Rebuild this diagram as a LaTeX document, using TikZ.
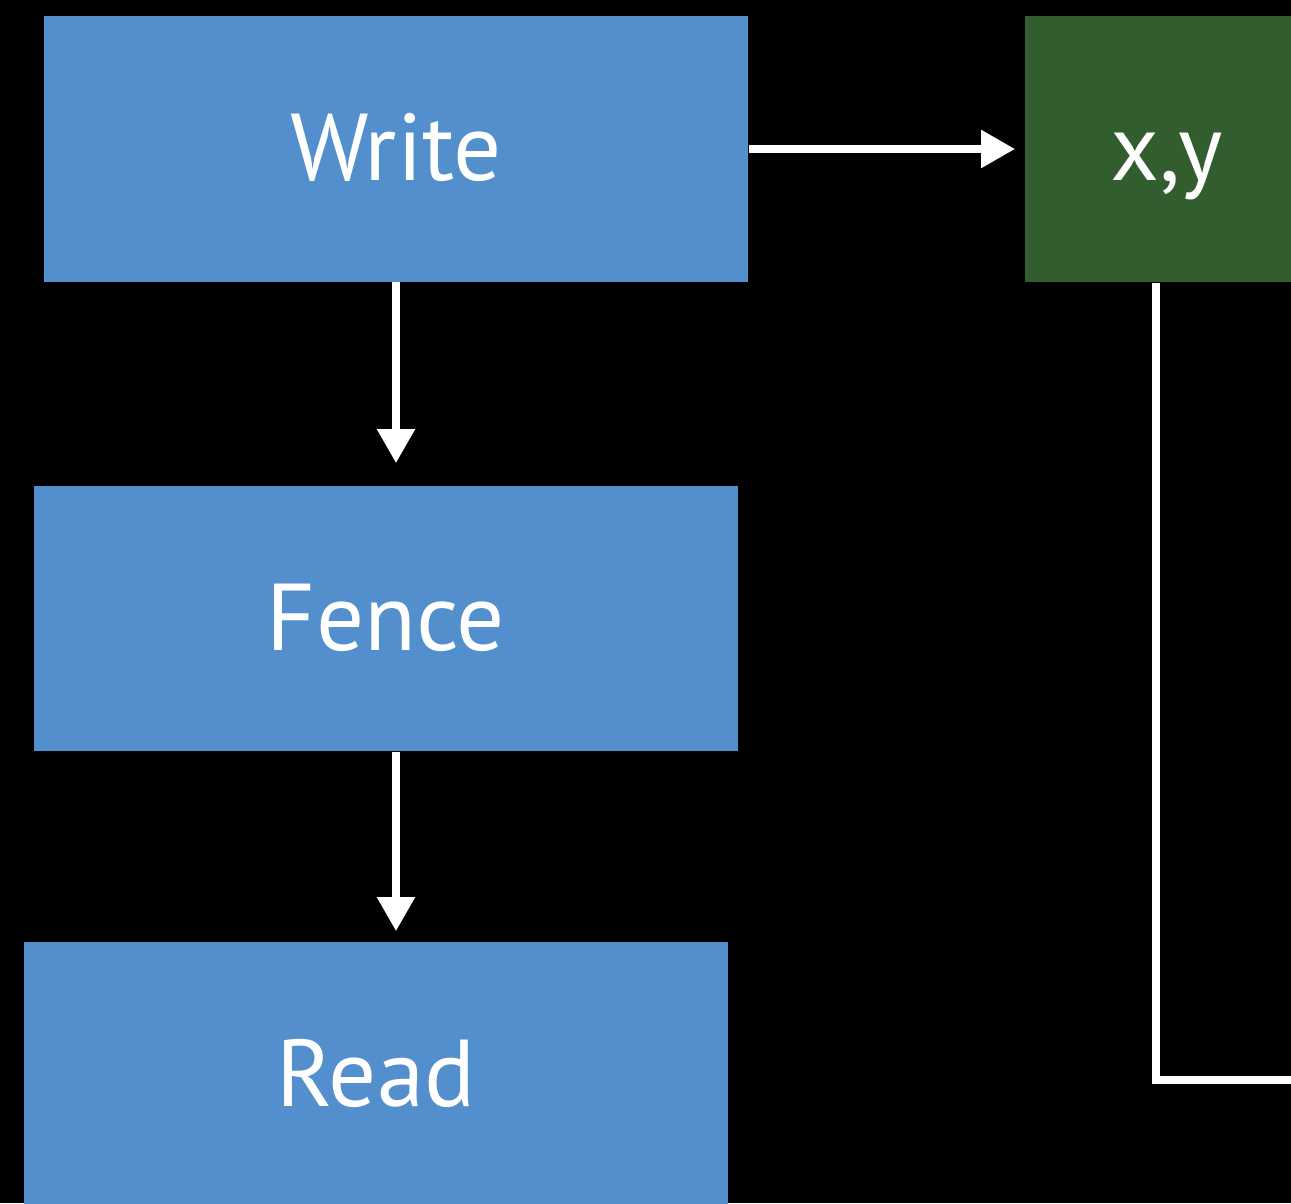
\documentclass[tikz,border=0pt]{standalone}
\usepackage{fontspec}
\setmainfont{PT Sans}
\usetikzlibrary{positioning,arrows.meta}
\definecolor{steelblue}{RGB}{82, 143, 204}
\definecolor{fern}{RGB}{50, 93, 47}
\tikzset{opbox/.style={rectangle,fill=steelblue,text=white,minimum width=7.04cm,minimum height=2.65cm,inner sep=0pt,text height=18pt,text depth=0pt,font=\fontsize{27}{32}\selectfont}}
\tikzset{varbox/.style={rectangle,fill=fern,text=white,minimum width=2.84cm,minimum height=2.66cm,inner sep=0pt,text height=18pt,text depth=0pt,font=\fontsize{27}{32}\selectfont}}
\tikzset{whitearrow/.style={-{Triangle[length=0.34cm,width=0.36cm]},white,line width=0.08cm}}
\tikzset{whiteline/.style={white,line width=0.08cm}}

\begin{document}
\begin{tikzpicture}[x=0.01cm,y=-0.01cm]

	\fill[black] (0,0) rectangle (1291,1203);
	\useasboundingbox (0,0) rectangle (1291,1203);
	\clip (0,0) rectangle (1291,1203);
	\node[opbox] (write) at (396,149) {Write};
	\node[opbox] (fence) at (386,618.5) {Fence};
	\node[opbox] (read) at (376,1074.5) {Read};
	\node[varbox] (xy) at (1167,149) {x,y};
	\draw[whitearrow,shorten >=0.09cm] (write.east) -- (xy.west);
	\draw[whitearrow,shorten >=0.22cm] (write.south) -- (write.south |- fence.north);
	\draw[whitearrow,shorten >=0.10cm] (write.south |- fence.south) -- (write.south |- read.north);
	\coordinate (bend) at (1156,1080);
	\coordinate (exit) at (1300,1080);
	\draw[whiteline] (bend |- xy.south) -- (bend) -- (exit);
\end{tikzpicture}
\end{document}
